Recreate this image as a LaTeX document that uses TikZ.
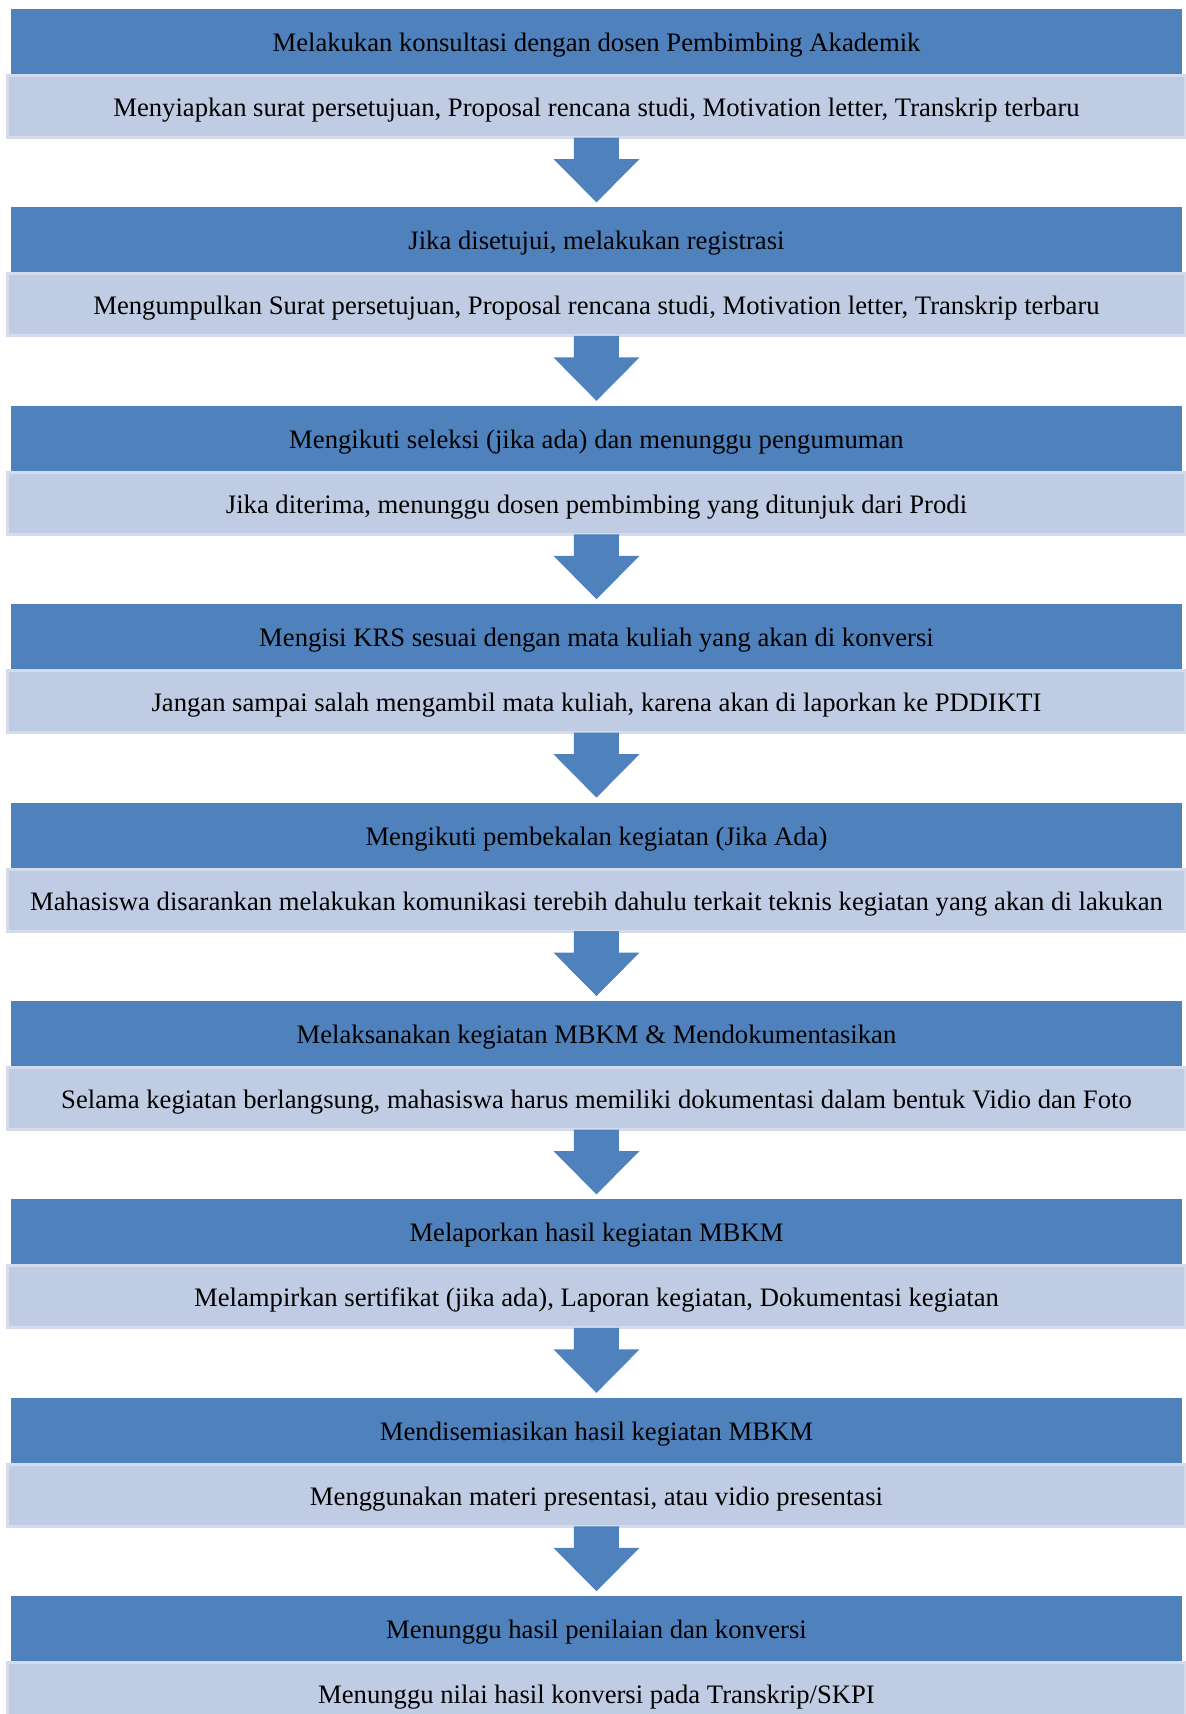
\documentclass[tikz,border=0pt]{standalone}
\usepackage{fontspec}
\setmainfont{Liberation Serif}
\usetikzlibrary{positioning,calc}

\definecolor{hdblue}{RGB}{79,129,189}
\definecolor{dsfill}{RGB}{192,204,227}
\definecolor{dsline}{RGB}{212,220,236}

\tikzset{
  hd/.style={rectangle, fill=hdblue, minimum width=585.5pt, minimum height=32.5pt, inner sep=0pt, outer sep=0pt, text height=12.5pt, text depth=2.5pt},
  ds/.style={rectangle, fill=dsfill, draw=dsline, line width=1.5pt, minimum width=588.5pt, minimum height=31pt, inner sep=0pt, text height=12.5pt, text depth=2.5pt},
  flow/.style={fill=hdblue}
}

\begin{document}
\begin{tikzpicture}[every node/.style={font=\fontsize{13.33}{16}\selectfont}]
\useasboundingbox (-298.25pt,20.75pt) rectangle (294.75pt,-836.25pt);

\node[hd] (h1) at (0,0) {Melakukan konsultasi dengan dosen Pembimbing Akademik};
\node[ds, below=0pt of h1] (d1) {Menyiapkan surat persetujuan, Proposal rencana studi, Motivation letter, Transkrip terbaru};

\node[hd, below=34.2pt of d1] (h2) {Jika disetujui, melakukan registrasi};
\node[ds, below=0pt of h2] (d2) {Mengumpulkan Surat persetujuan, Proposal rencana studi, Motivation letter, Transkrip terbaru};

\node[hd, below=34.2pt of d2] (h3) {Mengikuti seleksi (jika ada) dan menunggu pengumuman};
\node[ds, below=0pt of h3] (d3) {Jika diterima, menunggu dosen pembimbing yang ditunjuk dari Prodi};

\node[hd, below=34.2pt of d3] (h4) {Mengisi KRS sesuai dengan mata kuliah yang akan di konversi};
\node[ds, below=0pt of h4] (d4) {Jangan sampai salah mengambil mata kuliah, karena akan di laporkan ke PDDIKTI};

\node[hd, below=34.2pt of d4] (h5) {Mengikuti pembekalan kegiatan (Jika Ada)};
\node[ds, below=0pt of h5] (d5) {Mahasiswa disarankan melakukan komunikasi terebih dahulu terkait teknis kegiatan yang akan di lakukan};

\node[hd, below=34.2pt of d5] (h6) {Melaksanakan kegiatan MBKM \& Mendokumentasikan};
\node[ds, below=0pt of h6] (d6) {Selama kegiatan berlangsung, mahasiswa harus memiliki dokumentasi dalam bentuk Vidio dan Foto};

\node[hd, below=34.2pt of d6] (h7) {Melaporkan hasil kegiatan MBKM};
\node[ds, below=0pt of h7] (d7) {Melampirkan sertifikat (jika ada), Laporan kegiatan, Dokumentasi kegiatan};

\node[hd, below=34.2pt of d7] (h8) {Mendisemiasikan hasil kegiatan MBKM};
\node[ds, below=0pt of h8] (d8) {Menggunakan materi presentasi, atau vidio presentasi};

\node[hd, below=34.2pt of d8] (h9) {Menunggu hasil penilaian dan konversi};
\node[ds, below=0pt of h9] (d9) {Menunggu nilai hasil konversi pada Transkrip/SKPI};

% block arrows between the steps
\foreach \i [evaluate=\i as \j using int(\i+1)] in {1,...,8}
  \fill[flow] ($(d\i.south)+(-11.25pt,0.75pt)$) -- ++(0,-10.75pt) -- ++(-10.25pt,0)
    -- ($(h\j.north)+(0,2.5pt)$) -- ($(d\i.south)+(21.5pt,-10pt)$) -- ++(-10.25pt,0)
    -- ($(d\i.south)+(11.25pt,0.75pt)$) -- cycle;
\end{tikzpicture}
\end{document}
